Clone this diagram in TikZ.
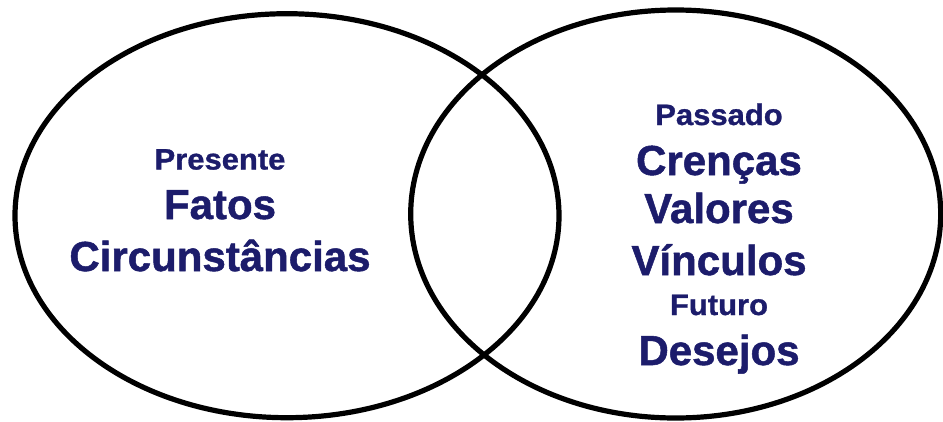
\documentclass[tikz,border=0pt]{standalone}
\usepackage{fontspec}
\setmainfont{Liberation Sans}
\newfontfamily\bigfont{Liberation Sans}[FakeStretch=1.0, FakeBold=1.2]
\newfontfamily\smallfont{Liberation Sans}[FakeStretch=1.05, FakeBold=1.0]
\definecolor{navy}{RGB}{28,28,107}
\begin{document}
\begin{tikzpicture}[x=1pt,y=-1pt,
  ring/.style={line width=5.2pt, draw=black},
  bigt/.style={font=\bigfont\bfseries\fontsize{42}{48}\selectfont, text=navy, anchor=base, inner sep=0pt},
  smallt/.style={font=\smallfont\bfseries\fontsize{29.5}{34}\selectfont, text=navy, anchor=base, inner sep=0pt}]
\useasboundingbox (0,0) rectangle (943,421);
\draw[ring] (287,215.7) ellipse [x radius=272, y radius=202];
\draw[ring] (675.7,214) ellipse [x radius=265, y radius=204];
% left
\node[smallt] (presente) at (220,169.5) {Presente};
\node[bigt] (fatos) at (220,219) {Fatos};
\node[bigt] (circ) at (220,271) {Circunstâncias};
% right
\node[smallt] (passado) at (719,125) {Passado};
\node[bigt] (crencas) at (719,175) {Crenças};
\node[bigt] (valores) at (719,223) {Valores};
\node[bigt] (vinculos) at (719,275) {Vínculos};
\node[smallt] (futuro) at (719,315) {Futuro};
\node[bigt] (desejos) at (719,365) {Desejos};
\end{tikzpicture}
\end{document}
